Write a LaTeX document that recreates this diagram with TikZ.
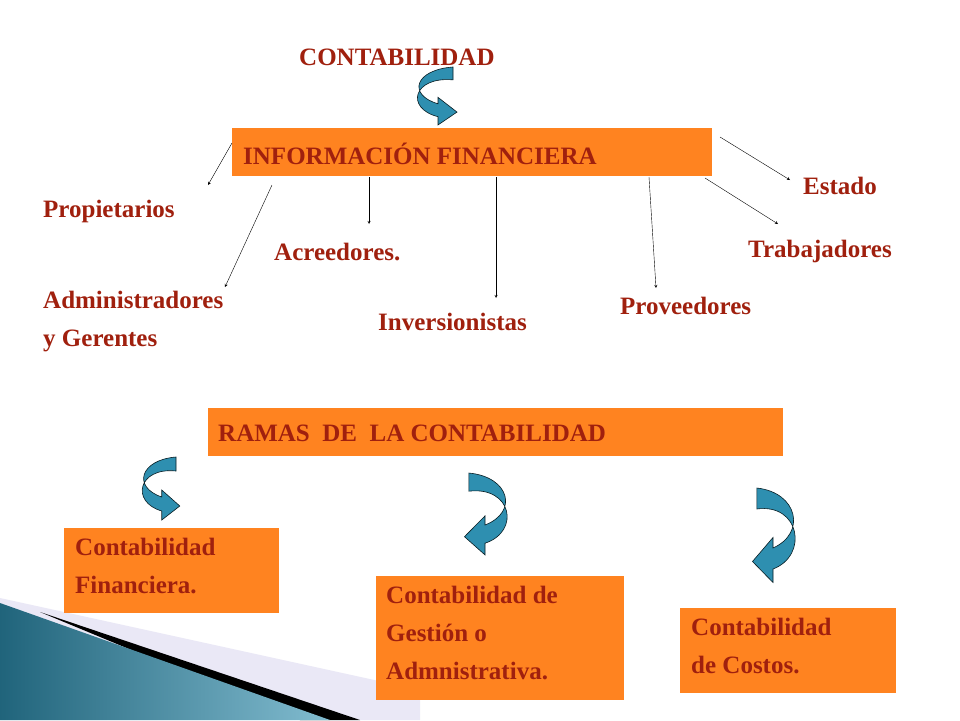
\documentclass[tikz,border=0pt]{standalone}
\usepackage{fontspec}
\setmainfont{Liberation Serif}
\begin{document}
\begin{tikzpicture}[x=1pt,y=-1pt,
  lbl/.style={anchor=west,inner sep=0pt,text=txt,font=\fontsize{25}{38}\selectfont\bfseries,align=left},
  box/.style={fill=org,anchor=north west,inner sep=0pt},
  con/.style={-stealth,thin,black},
  curl/.style={fill=arrblue,draw=black!80!arrblue,line width=0.6pt}]
\definecolor{txt}{HTML}{A0200E}
\definecolor{org}{HTML}{FF8320}
\definecolor{arrblue}{HTML}{2E8FB0}
\useasboundingbox (0,0) rectangle (960,720);
\fill[white] (0,0) rectangle (960,720);
% decoration
\fill[cyan!15!blue!8] (0,598) -- (420,690) -- (420,720) -- (0,720) -- cycle;
\fill[black] (40,612) -- (360,720) -- (300,720) -- cycle;
\shade[left color=arrblue!70!black,right color=arrblue!60!white] (0,603) -- (330,720) -- (0,720) -- cycle;
% boxes
\fill[org] (232,128) rectangle (712,176);
\fill[org] (208,408) rectangle (783,456);
\fill[org] (64,528) rectangle (279,613);
\fill[org] (376,576) rectangle (624,700);
\fill[org] (680,608) rectangle (896,693);
\node[lbl] (title) at (299,57) {CONTABILIDAD};
\node[lbl] (info) at (243,154) {INFORMACIÓN FINANCIERA};
\node[lbl] (ramas) at (218,433) {RAMAS\ \ DE\ \ LA CONTABILIDAD};
\node[lbl,anchor=north west] (cf) at (75,538) {Contabilidad\\Financiera.};
\node[lbl,anchor=north west] (cg) at (386,586) {Contabilidad de\\Gestión o\\Admnistrativa.};
\node[lbl,anchor=north west] (cc) at (691,618) {Contabilidad\\de Costos.};
\node[lbl] (prop) at (43,211) {Propietarios};
\node[lbl] (est) at (803,186) {Estado};
\node[lbl] (acr) at (274,252) {Acreedores.};
\node[lbl] (trab) at (748,251) {Trabajadores};
\node[lbl,anchor=north west] (adm) at (43,291) {Administradores\\y Gerentes};
\node[lbl] (inv) at (378,322) {Inversionistas};
\node[lbl] (prov) at (620,306) {Proveedores};
% connectors
\coordinate (a1) at (232,143); \coordinate (b1) at (208,185);
\coordinate (a2) at (272,185); \coordinate (b2) at (225,287);
\coordinate (a3) at (369,177); \coordinate (b3) at (369,224);
\coordinate (a4) at (496,177); \coordinate (b4) at (496,298);
\coordinate (a5) at (649,177); \coordinate (b5) at (656,288);
\coordinate (a6) at (720,137); \coordinate (b6) at (790,180);
\coordinate (a7) at (705,178); \coordinate (b7) at (778,224);
\foreach \i in {1,...,7} \draw[con] (a\i) -- (b\i);
% curled arrows
\def\curlpath{(40,0) .. controls (2,3) and (-6,30) .. (25,40) -- (25,33) -- (44,49) -- (25,63) -- (25,54) .. controls (-8,45) and (0,10) .. (40,14) -- cycle}
\begin{scope}[shift={(413,67)},xscale=1,yscale=0.92]\fill[curl] \curlpath;\end{scope}
\begin{scope}[shift={(138,457)},xscale=0.95,yscale=1.0]\fill[curl] \curlpath;\end{scope}
\begin{scope}[shift={(512,473)},xscale=-1.08,yscale=1.3]\fill[curl] \curlpath;\end{scope}
\begin{scope}[shift={(800,488)},xscale=-1.08,yscale=1.5]\fill[curl] \curlpath;\end{scope}
\end{tikzpicture}
\end{document}
